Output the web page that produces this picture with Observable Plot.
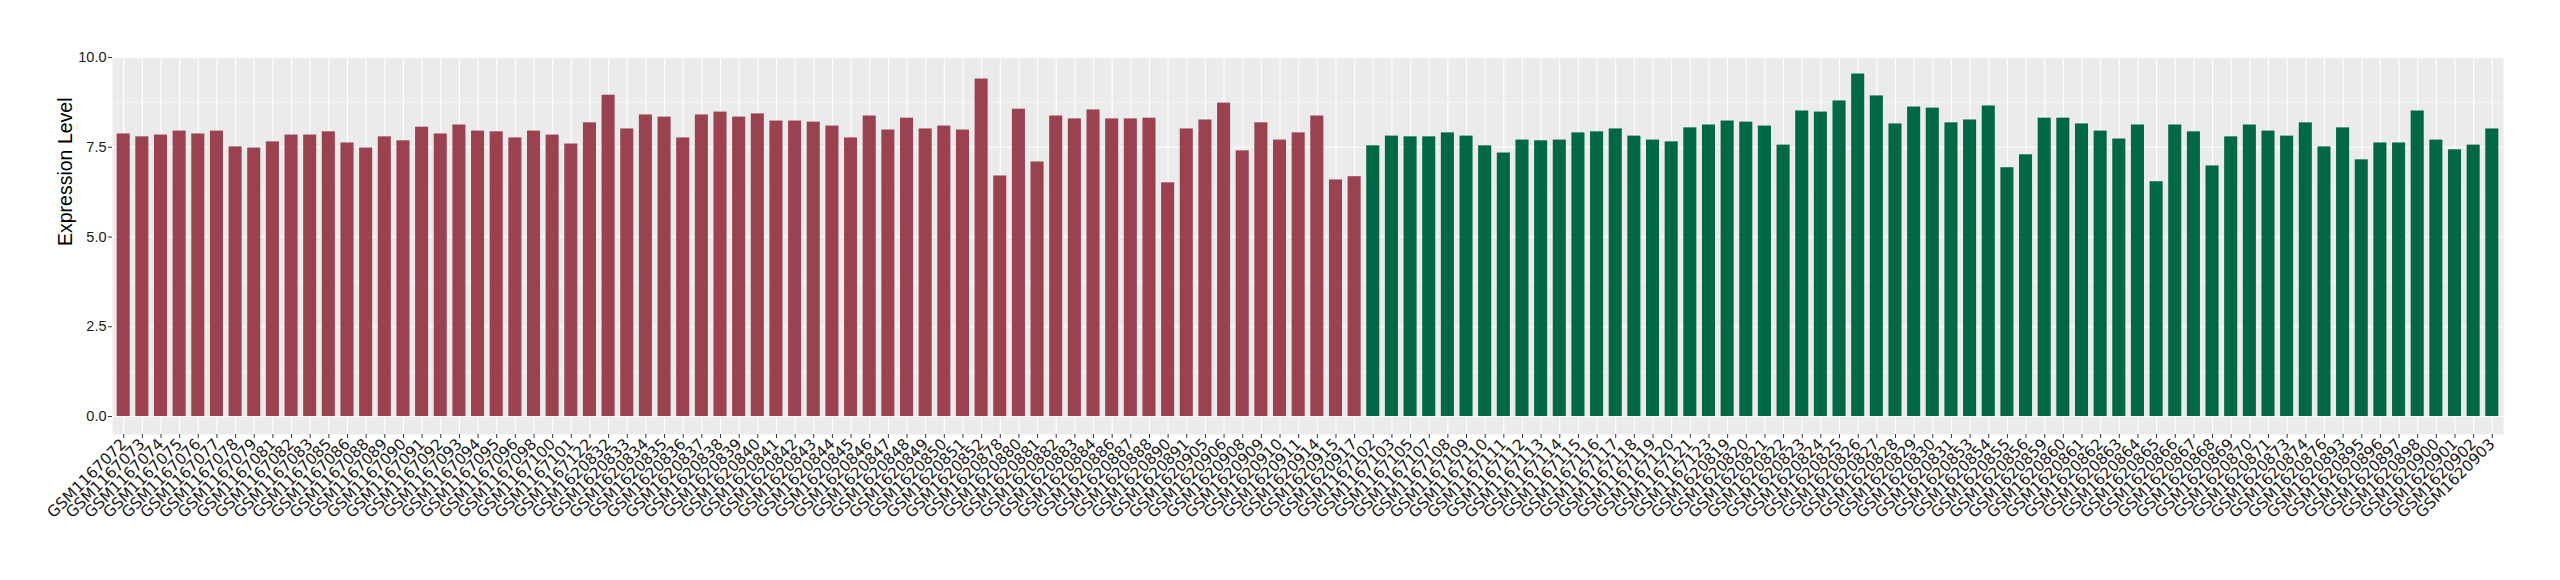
<!DOCTYPE html>
<html>
<head>
<meta charset="utf-8">
<script src="https://cdn.jsdelivr.net/npm/d3@7"></script>
<script src="https://cdn.jsdelivr.net/npm/@observablehq/plot@0.6"></script>
<style>
  html, body { margin: 0; padding: 0; background: #ffffff; }
  #chart svg { display: block; }
</style>
</head>
<body>
<div id="chart"></div>
<script>
// ---- data ----
const group1Samples = [
  "GSM1167072","GSM1167073","GSM1167074","GSM1167075","GSM1167076","GSM1167077","GSM1167078","GSM1167079",
  "GSM1167081","GSM1167082","GSM1167083","GSM1167085","GSM1167086","GSM1167088","GSM1167089","GSM1167090",
  "GSM1167091","GSM1167092","GSM1167093","GSM1167094","GSM1167095","GSM1167096","GSM1167098","GSM1167100",
  "GSM1167101","GSM1167122","GSM1620832","GSM1620833","GSM1620834","GSM1620835","GSM1620836","GSM1620837",
  "GSM1620838","GSM1620839","GSM1620840","GSM1620841","GSM1620842","GSM1620843","GSM1620844","GSM1620845",
  "GSM1620846","GSM1620847","GSM1620848","GSM1620849","GSM1620850","GSM1620851","GSM1620852","GSM1620878",
  "GSM1620880","GSM1620881","GSM1620882","GSM1620883","GSM1620884","GSM1620886","GSM1620887","GSM1620888",
  "GSM1620890","GSM1620891","GSM1620905","GSM1620906","GSM1620908","GSM1620909","GSM1620910","GSM1620911",
  "GSM1620914","GSM1620915","GSM1620917"
];
const group1Values = [
  7.87,7.79,7.84,7.95,7.87,7.95,7.51,7.48,
  7.65,7.84,7.84,7.93,7.62,7.48,7.79,7.68,
  8.06,7.87,8.12,7.95,7.93,7.76,7.95,7.84,
  7.59,8.18,8.95,8.01,8.40,8.34,7.76,8.40,
  8.48,8.34,8.43,8.23,8.23,8.20,8.09,7.76,
  8.37,7.98,8.31,8.01,8.09,7.98,9.40,6.70,
  8.56,7.09,8.37,8.29,8.54,8.29,8.29,8.31,
  6.51,8.01,8.26,8.73,7.40,8.18,7.70,7.90,
  8.37,6.59,6.68
];
const group2Samples = [
  "GSM1167102","GSM1167103","GSM1167105","GSM1167107","GSM1167108","GSM1167109","GSM1167110","GSM1167111",
  "GSM1167112","GSM1167113","GSM1167114","GSM1167115","GSM1167116","GSM1167117","GSM1167118","GSM1167119",
  "GSM1167120","GSM1167121","GSM1167123","GSM1620819","GSM1620820","GSM1620821","GSM1620822","GSM1620823",
  "GSM1620824","GSM1620825","GSM1620826","GSM1620827","GSM1620828","GSM1620829","GSM1620830","GSM1620831",
  "GSM1620853","GSM1620854","GSM1620855","GSM1620856","GSM1620859","GSM1620860","GSM1620861","GSM1620862",
  "GSM1620863","GSM1620864","GSM1620865","GSM1620866","GSM1620867","GSM1620868","GSM1620869","GSM1620870",
  "GSM1620871","GSM1620873","GSM1620874","GSM1620876","GSM1620893","GSM1620895","GSM1620896","GSM1620897",
  "GSM1620898","GSM1620900","GSM1620901","GSM1620902","GSM1620903"
];
const group2Values = [
  7.54,7.81,7.79,7.79,7.90,7.81,7.54,7.34,
  7.70,7.68,7.70,7.90,7.93,8.01,7.81,7.70,
  7.65,8.04,8.12,8.23,8.20,8.09,7.56,8.51,
  8.48,8.79,9.54,8.93,8.15,8.62,8.59,8.18,
  8.26,8.65,6.93,7.29,8.31,8.31,8.15,7.95,
  7.73,8.12,6.54,8.12,7.93,6.98,7.79,8.12,
  7.95,7.81,8.18,7.51,8.04,7.15,7.62,7.62,
  8.51,7.70,7.43,7.56,8.01
];
const groupNames = ["Group 1", "Group 2"];
const yTicks = [0, 2.5, 5, 7.5, 10];
const yMinorTicks = [1.25, 3.75, 6.25, 8.75];
const yLabel = "Expression Level";

// ---- table built from the arrays ----
const rows = [
  ...group1Samples.map((s, i) => ({sample: s, value: group1Values[i], group: groupNames[0]})),
  ...group2Samples.map((s, i) => ({sample: s, value: group2Values[i], group: groupNames[1]}))
];
const order = rows.map(d => d.sample);

const chart = Plot.plot({
  width: 2560,
  height: 580,
  marginLeft: 112,
  marginRight: 57,
  marginTop: 57,
  marginBottom: 146,
  style: {fontFamily: "'Liberation Sans', Arial, sans-serif", background: "#ffffff"},
  x: {domain: order, paddingInner: 0.3, paddingOuter: 0.25, label: null},
  y: {domain: [-0.5, 10], label: null},
  color: {domain: groupNames, range: ["#9B4251", "#006846"], legend: false},
  marks: [
    Plot.frame({fill: "#EBEBEB", stroke: "none"}),
    Plot.ruleY(yMinorTicks, {stroke: "#ffffff", strokeWidth: 0.55}),
    Plot.ruleY(yTicks, {stroke: "#ffffff", strokeWidth: 1.1}),
    Plot.gridX({stroke: "#ffffff", strokeOpacity: 1, strokeWidth: 1.1}),
    Plot.barY(rows, {x: "sample", y1: 0, y2: "value", fill: "group"}),
    Plot.axisY({
      ticks: yTicks,
      tickFormat: d3.format(".1f"),
      tickSize: 4,
      tickPadding: 2,
      stroke: "#333333",
      fill: "#1a1a1a",
      fontSize: 14.5,
      label: null
    }),
    Plot.text([yLabel], {
      frameAnchor: "left",
      rotate: -90,
      dx: -47,
      fontSize: 19.5,
      fill: "#000000"
    }),
    Plot.axisX({
      tickRotate: -45,
      tickSize: 4,
      tickPadding: 3,
      stroke: "#333333",
      fill: "#1a1a1a",
      fontSize: 15.5,
      fontFamily: "'DejaVu Sans', sans-serif",
      label: null
    })
  ]
});
document.getElementById("chart").appendChild(chart);
</script>
</body>
</html>
